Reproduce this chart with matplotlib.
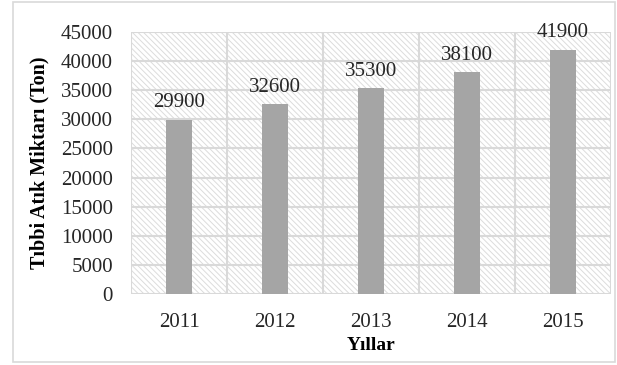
import numpy as np
import matplotlib.pyplot as plt
from matplotlib.patches import Rectangle

years = ['2011', '2012', '2013', '2014', '2015']
waste = [29900, 32600, 35300, 38100, 41900]
yticks = np.arange(0, 45001, 5000)

plt.rcParams['font.family'] = 'Liberation Serif'
plt.rcParams['hatch.color'] = '#dcdcdc'
plt.rcParams['hatch.linewidth'] = 0.7

fig = plt.figure(figsize=(6.17, 3.65), dpi=100)
ax = fig.add_axes([131/617, 1 - 294/365, 480/617, 262/365])

# outer chart border
fig.patches.append(Rectangle((13/617, 3/365), 602/617, 360/365, transform=fig.transFigure,
                             fill=False, edgecolor='#d9d9d9', lw=1.2))

x = np.arange(len(years))
ax.set_xlim(-0.5, len(years) - 0.5)
ax.set_ylim(0, 45000)

# hatched plot background
ax.add_patch(Rectangle((0, 0), 1, 1, transform=ax.transAxes, facecolor='white',
                       hatch='\\\\\\\\\\\\', edgecolor='#dcdcdc', lw=0, zorder=0))

for v in yticks:
    ax.axhline(v, color='#d9d9d9', lw=1.5, zorder=1)
for b in np.arange(-0.5, len(years), 1):
    ax.axvline(b, color='#d9d9d9', lw=1.5, zorder=1)

bars = ax.bar(x, waste, width=0.27, color='#a5a5a5', zorder=2)
for xi, v in zip(x, waste):
    ax.text(xi, v + 1300, str(v), ha='center', va='bottom', fontsize=15, color='#262626', zorder=3)

ax.set_xticks(x)
ax.set_xticklabels(years)
ax.set_yticks(yticks)
ax.tick_params(axis='y', length=0, labelsize=15, colors='#262626', pad=13)
ax.tick_params(axis='x', length=0, labelsize=15, colors='#262626', pad=14)
for s in ax.spines.values():
    s.set_visible(False)

ax.set_xlabel('Yıllar', fontsize=14, fontweight='bold', labelpad=3)
ax.set_ylabel('Tıbbi Atık Miktarı (Ton)', fontsize=14.5, fontweight='bold', labelpad=8)

fig.savefig('out.png', dpi=100)
